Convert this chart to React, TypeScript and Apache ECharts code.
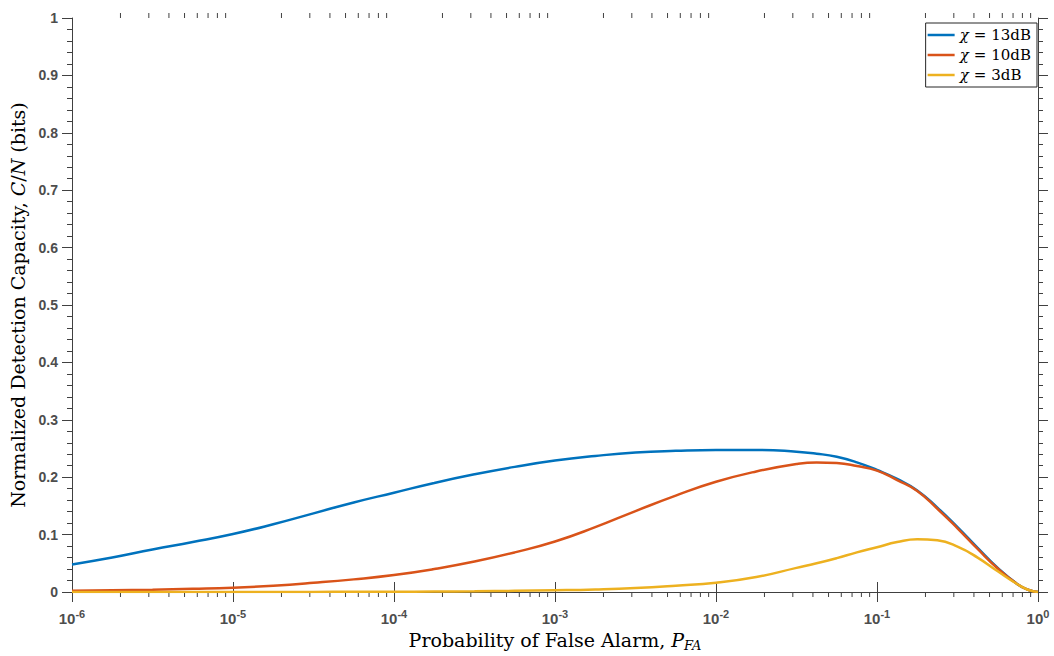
import React, { useEffect, useRef } from "react";
import * as echarts from "echarts";

// Probability of false alarm (x grid, log scale, quarter decades + finer near 1)
const pfa = [
  1e-6, 1.778e-6, 3.162e-6, 5.623e-6, 1e-5, 1.778e-5, 3.162e-5, 5.623e-5,
  1e-4, 1.778e-4, 3.162e-4, 5.623e-4, 1e-3, 1.778e-3, 3.162e-3, 5.623e-3,
  1e-2, 0.01778, 0.03162, 0.04217, 0.05623, 0.07499, 0.1, 0.1334, 0.1778,
  0.2371, 0.3162, 0.4217, 0.5623, 0.7499, 0.866, 1,
];
const chi13 = [
  0.048, 0.06, 0.074, 0.087, 0.101, 0.118, 0.137, 0.156,
  0.173, 0.19, 0.205, 0.218, 0.229, 0.237, 0.243, 0.246,
  0.2475, 0.2475, 0.2445, 0.241, 0.2355, 0.2258, 0.2125, 0.197, 0.177,
  0.147, 0.113, 0.077, 0.042, 0.013, 0.004, 0,
];
const chi10 = [
  0.002, 0.003, 0.004, 0.0055, 0.0075, 0.011, 0.016, 0.022,
  0.0296, 0.04, 0.053, 0.069, 0.088, 0.113, 0.141, 0.168,
  0.192, 0.21, 0.223, 0.2258, 0.2248, 0.2195, 0.2115, 0.195, 0.176,
  0.145, 0.111, 0.075, 0.041, 0.013, 0.004, 0,
];
const chi3 = [
  0, 0, 0, 0.0001, 0.0001, 0.0002, 0.0002, 0.0003,
  0.0005, 0.0008, 0.0012, 0.002, 0.003, 0.0045, 0.007, 0.011,
  0.016, 0.026, 0.042, 0.05, 0.059, 0.069, 0.078, 0.087, 0.092,
  0.09, 0.079, 0.06, 0.036, 0.013, 0.004, 0,
];
const seriesNames = ["χ = 13dB", "χ = 10dB", "χ = 3dB"];
const seriesColors = ["#0072BD", "#D95319", "#EDB120"];
const seriesData = [chi13, chi10, chi3];

// minor ticks on the log axis: 2..9 within each decade
const decades = [-6, -5, -4, -3, -2, -1];
const minorMultipliers = [2, 3, 4, 5, 6, 7, 8, 9];

const AXIS_COLOR = "#404040";
const LABEL_COLOR = "#4d4d4d";
const SERIF = "'DejaVu Serif', 'Liberation Serif', serif";
const SANS = "'Liberation Sans', Arial, Helvetica, sans-serif";

export default function App() {
  const ref = useRef<HTMLDivElement>(null);
  useEffect(() => {
    if (!ref.current) return;
    const chart = echarts.init(ref.current, undefined, { renderer: "svg" });
    const minorTicks: number[][] = [];
    decades.forEach((d) =>
      minorMultipliers.forEach((m) => minorTicks.push([m * Math.pow(10, d), 0]))
    );
    const xLabelRich = {
      b: { fontSize: 15, fontWeight: "bold", color: LABEL_COLOR, fontFamily: SANS, lineHeight: 20 },
      s: { fontSize: 11, fontWeight: "bold", color: LABEL_COLOR, fontFamily: SANS, verticalAlign: "top" },
    };
    const xAxisCommon = {
      type: "log",
      logBase: 10,
      min: 1e-6,
      max: 1,
      splitLine: { show: false },
      axisLine: { show: true, lineStyle: { color: AXIS_COLOR, width: 1 } },
      axisTick: { show: true, inside: false, length: 10, lineStyle: { color: AXIS_COLOR } },
      minorTick: { show: false },
    };
    const yAxisCommon = {
      type: "value",
      min: 0,
      max: 1,
      interval: 0.1,
      splitLine: { show: false },
      axisLine: { show: true, lineStyle: { color: AXIS_COLOR, width: 1 } },
      axisTick: { show: true, inside: false, length: 10, lineStyle: { color: AXIS_COLOR } },
      minorTick: { show: true, splitNumber: 5, length: 5, lineStyle: { color: AXIS_COLOR } },
    };
    chart.setOption({
      animation: false,
      backgroundColor: "#ffffff",
      grid: {
        left: 72,
        right: 16,
        top: 18,
        bottom: 64,
        containLabel: false,
        outerBoundsMode: "none",
      },
      legend: {
        data: seriesNames.map((n) => ({ name: n, icon: "rect" })),
        orient: "vertical",
        right: 17,
        top: 23,
        padding: [3, 6, 3, 2],
        itemWidth: 27,
        itemHeight: 2.5,
        itemGap: 2,
        borderColor: "#262626",
        borderWidth: 1,
        backgroundColor: "#ffffff",
        formatter: (name: string) => {
          const rest = name.split("=")[1].trim();
          return "{i|χ}{e|=}{r|" + rest + "}";
        },
        textStyle: {
          lineHeight: 18,
          rich: {
            i: { fontFamily: SERIF, fontSize: 15, fontStyle: "italic", color: "#000", lineHeight: 18 },
            e: { fontFamily: SERIF, fontSize: 15, color: "#000", lineHeight: 18, padding: [0, 5, 0, 5] },
            r: { fontFamily: SERIF, fontSize: 15, color: "#000", lineHeight: 18 },
          },
        },
      },
      xAxis: [
        {
          ...xAxisCommon,
          position: "bottom",
          name: "{t|Probability of False Alarm, }{i|P}{sub|FA}",
          nameLocation: "middle",
          nameGap: 36,
          nameTextStyle: {
            rich: {
              t: { fontFamily: SERIF, fontSize: 19, color: "#000", lineHeight: 24 },
              i: { fontFamily: SERIF, fontSize: 19, fontStyle: "italic", color: "#000", lineHeight: 24 },
              sub: { fontFamily: SERIF, fontSize: 13, fontStyle: "italic", color: "#000", verticalAlign: "bottom" },
            },
          },
          axisLabel: {
            show: true,
            margin: 16,
            formatter: (v: number) => {
              const e = Math.round(Math.log10(v));
              return "{b|10}{s|" + (e === 0 ? "0" : String(e)) + "}";
            },
            rich: xLabelRich,
          },
        },
        {
          ...xAxisCommon,
          position: "top",
          axisLabel: { show: false },
        },
      ],
      yAxis: [
        {
          ...yAxisCommon,
          position: "left",
          name: "{t|Normalized Detection Capacity, }{i|C}{t|/}{i|N}{t| (bits)}",
          nameLocation: "middle",
          nameGap: 42,
          nameTextStyle: {
            rich: {
              t: { fontFamily: SERIF, fontSize: 19, color: "#000" },
              i: { fontFamily: SERIF, fontSize: 19, fontStyle: "italic", color: "#000" },
            },
          },
          axisLabel: {
            show: true,
            margin: 14,
            fontSize: 14,
            fontWeight: "bold",
            color: LABEL_COLOR,
            fontFamily: SANS,
            formatter: (v: number) => (Math.round(v * 10) / 10).toString(),
          },
        },
        {
          ...yAxisCommon,
          position: "right",
          axisLabel: { show: false },
        },
      ],
      series: [
        ...seriesNames.map((name, i) => ({
          name,
          type: "line",
          xAxisIndex: 0,
          yAxisIndex: 0,
          data: pfa.map((p, j) => [p, seriesData[i][j]]),
          smooth: 0.5,
          showSymbol: false,
          symbol: "none",
          color: seriesColors[i],
          lineStyle: { color: seriesColors[i], width: 2.5 },
          z: 3 + i,
        })),
        {
          type: "custom",
          name: "minorTicks",
          xAxisIndex: 0,
          yAxisIndex: 0,
          silent: true,
          clip: false,
          data: minorTicks,
          renderItem: (params: any, api: any) => {
            const v = api.value(0);
            const b = api.coord([v, 0]);
            const t = api.coord([v, 1]);
            const style = { stroke: AXIS_COLOR, lineWidth: 1 };
            return {
              type: "group",
              children: [
                { type: "line", shape: { x1: b[0], y1: b[1], x2: b[0], y2: b[1] + 5 }, style },
                { type: "line", shape: { x1: t[0], y1: t[1], x2: t[0], y2: t[1] - 5 }, style },
              ],
            };
          },
        },
      ],
    });
    return () => chart.dispose();
  }, []);
  return (
    <div
      ref={ref}
      style={{ position: "fixed", left: 0, top: 0, width: 1054, height: 656, background: "#fff" }}
    />
  );
}
